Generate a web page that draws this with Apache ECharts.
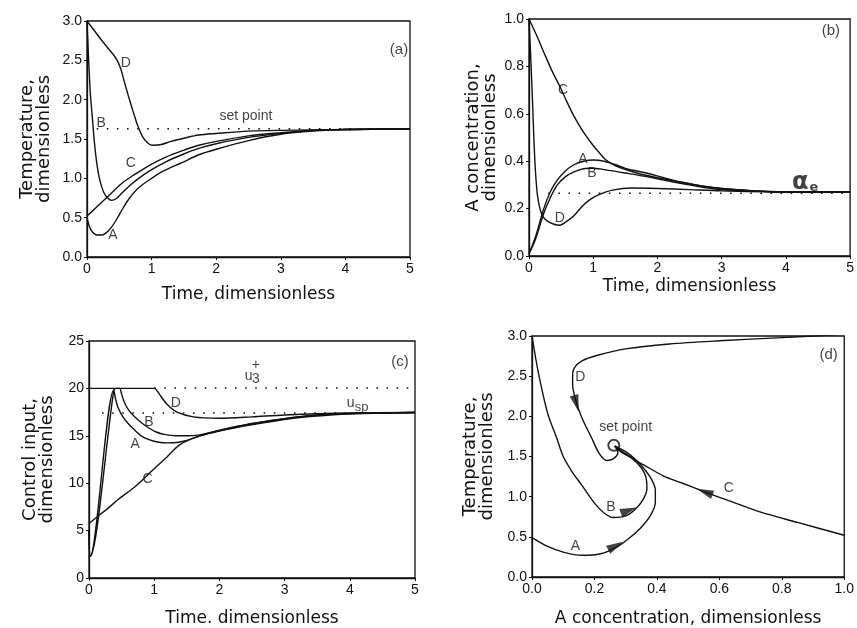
<!DOCTYPE html>
<html style="height: 100%">
<head>
    <meta charset="UTF-8" />
    <title>Control trajectories</title>
    <script src="https://cdn.jsdelivr.net/npm/echarts@6/dist/echarts.min.js"></script>
</head>
<body style="height: 100%; margin: 0; background: #fff">
    <div id="main" style="width: 857px; height: 628px"></div>
    <script type="text/javascript">
        // (a) temperature vs time
        var tempA = [[0,0.5],[0.04,0.38],[0.08,0.32],[0.15,0.28],[0.23,0.28],[0.3,0.31],[0.38,0.38],[0.46,0.48],[0.55,0.61],[0.65,0.74],[0.8,0.88],[1.0,1.0],[1.2,1.1],[1.47,1.2],[1.73,1.3],[2.0,1.37],[2.5,1.48],[3.0,1.56],[3.5,1.6],[4,1.62],[5,1.63]];
        var tempB = [[0,3.0],[0.02,2.6],[0.05,2.1],[0.08,1.8],[0.11,1.5],[0.15,1.2],[0.2,0.97],[0.26,0.82],[0.32,0.75],[0.38,0.72],[0.45,0.74],[0.55,0.82],[0.65,0.9],[0.8,1.0],[1.0,1.11],[1.22,1.21],[1.47,1.3],[1.73,1.38],[2.0,1.44],[2.5,1.52],[3.0,1.57],[3.5,1.61],[4,1.62],[5,1.63]];
        var tempC = [[0,0.52],[0.13,0.62],[0.26,0.72],[0.4,0.83],[0.56,0.95],[0.7,1.03],[0.86,1.11],[1.0,1.18],[1.22,1.27],[1.47,1.35],[1.73,1.42],[2.0,1.47],[2.5,1.54],[3.0,1.58],[3.5,1.61],[4,1.62],[5,1.63]];
        var tempD = [[0,3.0],[0.13,2.86],[0.26,2.72],[0.4,2.58],[0.46,2.51],[0.52,2.4],[0.58,2.22],[0.64,2.05],[0.71,1.86],[0.78,1.68],[0.86,1.53],[0.94,1.45],[1.02,1.42],[1.15,1.43],[1.3,1.47],[1.5,1.51],[1.73,1.55],[2.0,1.57],[2.5,1.6],[3,1.61],[4,1.62],[5,1.63]];
        var tempSet = [[0.15,1.63],[5,1.63]];

        // (b) A concentration vs time
        var concA = [[0,0.01],[0.1,0.08],[0.23,0.2],[0.33,0.27],[0.44,0.32],[0.57,0.36],[0.7,0.385],[0.85,0.4],[1.0,0.405],[1.17,0.4],[1.35,0.385],[1.5,0.37],[1.83,0.35],[2.1,0.33],[2.4,0.31],[2.7,0.295],[3.0,0.285],[3.5,0.275],[4,0.27],[5,0.27]];
        var concB = [[0,0.01],[0.1,0.07],[0.23,0.18],[0.33,0.245],[0.44,0.3],[0.57,0.335],[0.7,0.355],[0.85,0.368],[1.0,0.37],[1.27,0.36],[1.5,0.35],[1.83,0.335],[2.1,0.32],[2.4,0.305],[2.7,0.29],[3,0.28],[3.5,0.275],[4,0.27],[5,0.27]];
        var concC = [[0,1.0],[0.12,0.93],[0.23,0.86],[0.36,0.78],[0.49,0.71],[0.6,0.645],[0.7,0.59],[0.83,0.53],[0.96,0.48],[1.08,0.44],[1.2,0.405],[1.35,0.38],[1.5,0.365],[1.75,0.345],[2.0,0.33],[2.3,0.315],[2.6,0.3],[3.0,0.285],[3.5,0.275],[4,0.27],[5,0.27]];
        var concD = [[0,1.0],[0.03,0.82],[0.055,0.65],[0.078,0.48],[0.1,0.36],[0.13,0.26],[0.17,0.2],[0.22,0.165],[0.3,0.145],[0.4,0.133],[0.48,0.13],[0.58,0.145],[0.7,0.17],[0.83,0.21],[0.96,0.24],[1.1,0.26],[1.3,0.278],[1.6,0.287],[2.0,0.285],[2.5,0.28],[3,0.275],[4,0.27],[5,0.27]];
        var concEq = [[0.3,0.265],[5,0.265]];

        // (c) control input vs time
        var ctrlA = [[0,5],[0.02,2.3],[0.38,19.8],[0.41,18.8],[0.45,17.9],[0.52,17.0],[0.6,16.3],[0.7,15.6],[0.8,15.0],[0.92,14.6],[1.05,14.35],[1.2,14.25],[1.35,14.3],[1.5,14.5],[1.7,15.0],[2.0,15.5],[2.5,16.3],[3.0,16.8],[3.5,17.2],[4,17.35],[5,17.45]];
        var ctrlB = [[0,5],[0.02,2.3],[0.38,19.8],[0.42,20],[0.47,20],[0.5,19.4],[0.55,18.4],[0.62,17.6],[0.7,17.0],[0.8,16.4],[0.9,15.9],[1.03,15.4],[1.15,15.15],[1.33,15.0],[1.5,15.0],[1.7,15.1],[1.9,15.4],[2.2,15.8],[2.7,16.4],[3.2,16.9],[3.7,17.2],[4.2,17.35],[5,17.45]];
        var ctrlC = [[0,5.75],[0.15,6.6],[0.3,7.4],[0.45,8.3],[0.7,9.6],[0.95,11.2],[1.2,12.8],[1.4,14.1],[1.7,15.0],[2.2,15.9],[2.7,16.5],[3.2,17.0],[4,17.35],[5,17.45]];
        var ctrlD = [[0,20],[1.0,20],[1.05,19.7],[1.1,19.2],[1.2,18.3],[1.35,17.5],[1.6,17.0],[2.0,16.85],[2.5,17.0],[3,17.2],[4,17.4],[5,17.45]];
        var ctrlMax = [[1.0,20.05],[5,20.05]];
        var ctrlSet = [[0.2,17.4],[5,17.4]];

        // (d) phase plane: temperature vs A concentration
        var phaseA = [[0,0.49],[0.05,0.38],[0.1,0.31],[0.16,0.27],[0.22,0.29],[0.27,0.37],[0.31,0.48],[0.35,0.62],[0.38,0.77],[0.395,0.93],[0.395,1.08],[0.385,1.2],[0.365,1.32],[0.335,1.45],[0.3,1.56],[0.265,1.63]];
        var phaseB = [[0,3.0],[0.02,2.55],[0.05,2.04],[0.08,1.72],[0.1,1.5],[0.13,1.3],[0.16,1.14],[0.2,0.92],[0.23,0.8],[0.26,0.74],[0.3,0.76],[0.33,0.84],[0.355,0.96],[0.368,1.1],[0.365,1.24],[0.35,1.36],[0.32,1.48],[0.29,1.56],[0.265,1.63]];
        var phaseC = [[1.0,0.52],[0.85,0.68],[0.73,0.81],[0.63,0.95],[0.553,1.06],[0.48,1.17],[0.42,1.26],[0.36,1.39],[0.31,1.5],[0.28,1.57],[0.265,1.63]];
        var phaseD = [[1.0,3.02],[0.8,2.98],[0.6,2.94],[0.44,2.9],[0.3,2.84],[0.21,2.76],[0.16,2.69],[0.135,2.6],[0.13,2.5],[0.13,2.4],[0.14,2.2],[0.16,1.98],[0.19,1.74],[0.215,1.54],[0.24,1.45],[0.26,1.47],[0.275,1.55],[0.265,1.63]];
        var phaseSet = [[0.262,1.64]];
        var phaseArrows = [[0.142,2.16],[0.31,0.83],[0.268,0.39],[0.553,1.06]];

        // curve labels: [text, x, y]
        var labelsA = [['D',0.6,2.46],['B',0.22,1.7],['C',0.68,1.19],['A',0.4,0.28],['set point',2.46,1.79]];
        var labelsB = [['C',0.53,0.7],['A',0.84,0.41],['B',0.98,0.35],['D',0.48,0.16]];
        var labelsC = [['D',1.33,18.4],['B',0.92,16.4],['A',0.71,14.1],['C',0.9,10.4]];
        var labelsD = [['D',0.155,2.49],['B',0.253,0.87],['A',0.139,0.39],['C',0.63,1.1],['set point',0.3,1.87]];
        var panelTags = [['(a)',4.83,2.63],['(b)',4.7,0.95],['(c)',4.77,22.8],['(d)',0.95,2.76]];

        var ink = '#111';
        var chart = echarts.init(document.getElementById('main'));

        function xAxisOf(i, max, step, name, gap, dec) {
            return {
                type: 'value', gridIndex: i, min: 0, max: max, interval: step,
                name: name, nameLocation: 'middle', nameGap: gap,
                nameTextStyle: { fontFamily: 'DejaVu Sans', fontSize: 17, color: ink },
                axisLine: { lineStyle: { color: ink, width: 1.3 } },
                axisTick: { inside: false, length: 3, lineStyle: { color: ink } },
                axisLabel: {
                    color: ink, fontFamily: 'Liberation Sans', fontSize: 14, margin: 5,
                    formatter: function (v) { return v.toFixed(dec); }
                },
                splitLine: { show: false }
            };
        }

        function yAxisOf(i, max, step, name, gap, dec) {
            return {
                type: 'value', gridIndex: i, min: 0, max: max, interval: step,
                name: name, nameLocation: 'middle', nameGap: gap,
                nameTextStyle: { fontFamily: 'DejaVu Sans', fontSize: 18, lineHeight: 17, color: ink },
                axisLine: { lineStyle: { color: ink, width: 1.3 } },
                axisTick: { inside: false, length: 3, lineStyle: { color: ink } },
                axisLabel: {
                    color: ink, fontFamily: 'Liberation Sans', fontSize: 14, margin: 5,
                    formatter: function (v) { return v.toFixed(dec); }
                },
                splitLine: { show: false }
            };
        }

        function curve(i, data) {
            return {
                type: 'line', xAxisIndex: i, yAxisIndex: i, data: data,
                showSymbol: false, smooth: 0.3, silent: true,
                lineStyle: { color: ink, width: 1.4 }
            };
        }

        function dotted(i, data) {
            return {
                type: 'line', xAxisIndex: i, yAxisIndex: i, data: data,
                showSymbol: false, silent: true,
                lineStyle: { color: ink, width: 1.6, type: [1.6, 8.5] }
            };
        }

        function texts(i, list, size) {
            return {
                type: 'scatter', xAxisIndex: i, yAxisIndex: i, silent: true,
                symbolSize: 1, itemStyle: { color: 'rgba(0,0,0,0)' },
                data: list.map(function (l) { return { name: l[0], value: [l[1], l[2]] }; }),
                label: {
                    show: true, position: 'inside', formatter: '{b}', color: ink,
                    fontFamily: 'Liberation Sans', fontSize: size || 14
                }
            };
        }

        var arrowAngles = [196, -70, -62, 69];

        var option = {
            animation: false,
            backgroundColor: '#fff',
            grid: [
                { left: 87, top: 21, width: 323, height: 236, show: true, borderColor: ink, borderWidth: 1.3 },
                { left: 529, top: 19, width: 324, height: 237, show: true, borderColor: ink, borderWidth: 1.3 },
                { left: 89, top: 341, width: 326, height: 239, show: true, borderColor: ink, borderWidth: 1.3 },
                { left: 532, top: 336, width: 316, height: 241, show: true, borderColor: ink, borderWidth: 1.3 }
            ],
            xAxis: [
                xAxisOf(0, 5, 1, 'Time, dimensionless', 29, 0),
                xAxisOf(1, 5, 1, 'Time, dimensionless', 22, 0),
                xAxisOf(2, 5, 1, 'Time. dimensionless', 32, 0),
                xAxisOf(3, 1, 0.2, 'A concentration, dimensionless', 33, 1)
            ],
            yAxis: [
                yAxisOf(0, 3, 0.5, 'Temperature,\ndimensionless', 34, 1),
                yAxisOf(1, 1, 0.2, 'A concentration,\ndimensionless', 30, 1),
                yAxisOf(2, 25, 5, 'Control input,\ndimensionless', 33, 0),
                yAxisOf(3, 3, 0.5, 'Temperature,\ndimensionless', 36, 1)
            ],
            series: [
                dotted(0, tempSet),
                curve(0, tempA), curve(0, tempB), curve(0, tempC), curve(0, tempD),
                texts(0, labelsA),
                texts(0, panelTags.slice(0, 1), 15),

                dotted(1, concEq),
                curve(1, concA), curve(1, concB), curve(1, concC), curve(1, concD),
                texts(1, labelsB),
                texts(1, panelTags.slice(1, 2), 15),
                {
                    type: 'scatter', xAxisIndex: 1, yAxisIndex: 1, silent: true,
                    symbolSize: 1, itemStyle: { color: 'rgba(0,0,0,0)' },
                    data: [[4.3, 0.31]],
                    label: {
                        show: true, position: 'inside', formatter: '{a|α}{e|e}',
                        rich: {
                            a: { fontFamily: 'DejaVu Sans', fontSize: 24, fontWeight: 'bold', color: ink },
                            e: { fontFamily: 'DejaVu Sans', fontSize: 13, fontWeight: 'bold', color: ink, padding: [10, 0, 0, 1] }
                        }
                    }
                },

                dotted(2, ctrlMax), dotted(2, ctrlSet),
                curve(2, ctrlA), curve(2, ctrlB), curve(2, ctrlC), curve(2, ctrlD),
                texts(2, labelsC),
                texts(2, panelTags.slice(2, 3), 15),
                texts(2, [['u', 2.45, 21.3], ['+', 2.56, 22.5], ['3', 2.56, 21.0]]),
                {
                    type: 'scatter', xAxisIndex: 2, yAxisIndex: 2, silent: true,
                    symbolSize: 1, itemStyle: { color: 'rgba(0,0,0,0)' },
                    data: [[4.12, 18.4]],
                    label: {
                        show: true, position: 'inside', formatter: '{u|u}{s|sp}',
                        rich: {
                            u: { fontFamily: 'Liberation Sans', fontSize: 14, color: ink },
                            s: { fontFamily: 'Liberation Sans', fontSize: 13, color: ink, padding: [8, 0, 0, 0] }
                        }
                    }
                },

                curve(3, phaseA), curve(3, phaseB), curve(3, phaseC), curve(3, phaseD),
                {
                    type: 'scatter', xAxisIndex: 3, yAxisIndex: 3, silent: true,
                    symbol: 'emptyCircle', symbolSize: 11, data: phaseSet,
                    itemStyle: { color: ink, borderColor: ink, borderWidth: 1.3 }
                },
                {
                    type: 'scatter', xAxisIndex: 3, yAxisIndex: 3, silent: true,
                    symbol: 'triangle', symbolSize: [9, 17],
                    itemStyle: { color: ink },
                    data: phaseArrows.map(function (p, k) {
                        return { value: p, symbolRotate: arrowAngles[k] };
                    })
                },
                texts(3, labelsD),
                texts(3, panelTags.slice(3, 4), 15)
            ]
        };

        chart.setOption(option);
    </script>
</body>
</html>
